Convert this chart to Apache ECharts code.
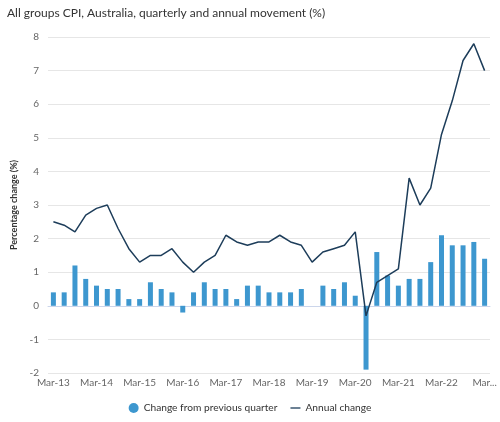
<!DOCTYPE html>
<html>
<head>
<meta charset="utf-8">
<script src="https://cdn.jsdelivr.net/npm/echarts@6/dist/echarts.min.js"></script>
<style>
html,body{margin:0;padding:0;background:#fff;}
#c{width:500px;height:422px;}
</style>
</head>
<body>
<div id="c"></div>
<script>
const categories = ['Mar-13','Jun-13','Sep-13','Dec-13','Mar-14','Jun-14','Sep-14','Dec-14','Mar-15','Jun-15','Sep-15','Dec-15','Mar-16','Jun-16','Sep-16','Dec-16','Mar-17','Jun-17','Sep-17','Dec-17','Mar-18','Jun-18','Sep-18','Dec-18','Mar-19','Jun-19','Sep-19','Dec-19','Mar-20','Jun-20','Sep-20','Dec-20','Mar-21','Jun-21','Sep-21','Dec-21','Mar-22','Jun-22','Sep-22','Dec-22','Mar-23'];
const quarterly = [0.4,0.4,1.2,0.8,0.6,0.5,0.5,0.2,0.2,0.7,0.5,0.4,-0.2,0.4,0.7,0.5,0.5,0.2,0.6,0.6,0.4,0.4,0.4,0.5,0.0,0.6,0.5,0.7,0.3,-1.9,1.6,0.9,0.6,0.8,0.8,1.3,2.1,1.8,1.8,1.9,1.4];
const annual = [2.5,2.4,2.2,2.7,2.9,3.0,2.3,1.7,1.3,1.5,1.5,1.7,1.3,1.0,1.3,1.5,2.1,1.9,1.8,1.9,1.9,2.1,1.9,1.8,1.3,1.6,1.7,1.8,2.2,-0.3,0.7,0.9,1.1,3.8,3.0,3.5,5.1,6.1,7.3,7.8,7.0];
const yTicks = [-2,-1,0,1,2,3,4,5,6,7,8];

const FONT = 'Lato';
const chart = echarts.init(document.getElementById('c'));
chart.setOption({
  animation:false,
  textStyle:{fontFamily:FONT},
  title:{
    text:'All groups CPI, Australia, quarterly and annual movement (%)',
    left:2, top:2,
    textStyle:{fontFamily:FONT,fontSize:12,fontWeight:'normal',color:'#333'}
  },
  legend:{
    bottom:4, left:'center', itemGap:13,
    textStyle:{fontFamily:FONT,fontSize:10.2,color:'#333'},
    data:[
      {name:'Change from previous quarter', icon:'circle', itemStyle:{color:'#3d97cf'}},
      {name:'Annual change', icon:'path://M0,0 L10,0 L10,1.3 L0,1.3 Z', itemStyle:{color:'#1d3d5a'}}
    ],
    itemWidth:10, itemHeight:10
  },
  grid:{left:48,right:10,top:37,bottom:49},
  xAxis:{
    type:'category',
    data:categories,
    axisLine:{lineStyle:{color:'#ccd6eb'}},
    axisTick:{show:false},
    axisLabel:{
      interval:3, fontSize:10, color:'#666', margin:5, fontFamily:FONT,
      formatter:function(v,i){ return i===categories.length-1 ? v.slice(0,3)+'...' : v; }
    }
  },
  yAxis:{
    type:'value',
    min:yTicks[0], max:yTicks[yTicks.length-1], interval:1,
    name:'Percentage change (%)', nameLocation:'middle', nameGap:28,
    nameTextStyle:{fontFamily:FONT,fontSize:9,fontWeight:'bold',color:'#333'},
    axisLabel:{fontSize:10,color:'#666',margin:9,fontFamily:FONT},
    splitLine:{lineStyle:{color:'#e6e6e6'}},
    axisLine:{show:false}, axisTick:{show:false}
  },
  series:[
    {name:'Change from previous quarter', type:'bar', data:quarterly, barWidth:5,
     itemStyle:{color:'#3d97cf'}},
    {name:'Annual change', type:'line', data:annual, symbol:'none',
     lineStyle:{color:'#1d3d5a',width:1.5}, itemStyle:{color:'#1d3d5a'}}
  ]
});
</script>
</body>
</html>
